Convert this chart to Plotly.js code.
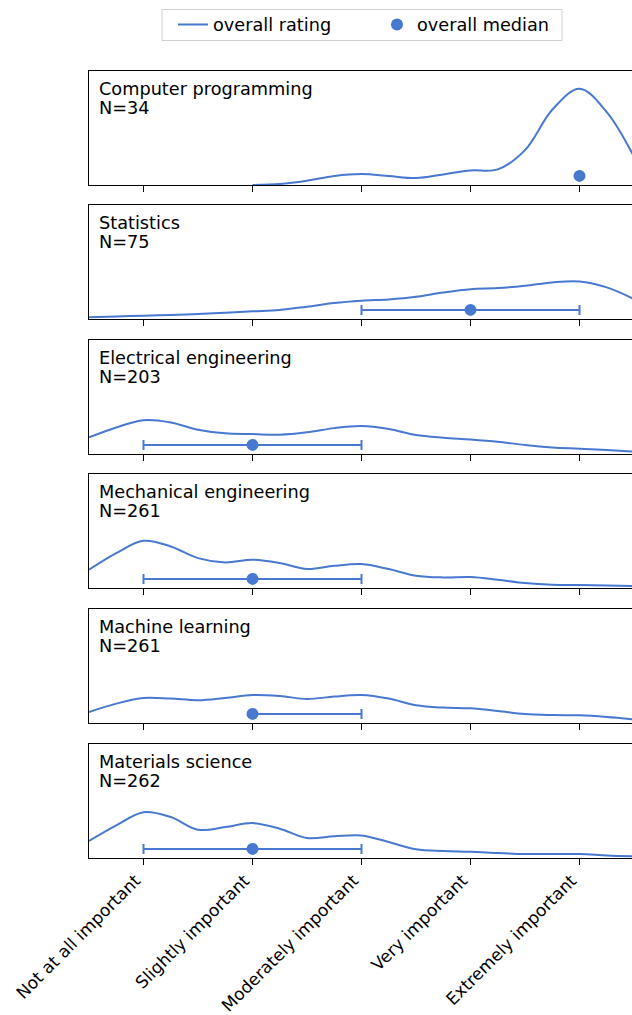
<!DOCTYPE html>
<html><head><meta charset="utf-8">
<script src="https://cdn.plot.ly/plotly-3.0.1.min.js"></script>
<style>html,body{margin:0;padding:0;overflow:hidden;background:#fff}</style>
</head><body><div id="chart" style="width:636px;height:1015px"></div>
<script>
const ratingLabels = ["Not at all important", "Slightly important", "Moderately important", "Very important", "Extremely important"];
const ratingPositions = [1, 2, 3, 4, 5];
const subjects = ["Computer programming", "Statistics", "Electrical engineering", "Mechanical engineering", "Machine learning", "Materials science"];
const sampleSizes = [34, 75, 203, 261, 261, 262];

const gridX = [0.5, 0.75, 1.0, 1.25, 1.5, 1.75, 2.0, 2.25, 2.5, 2.75, 3.0, 3.25, 3.5, 3.75, 4.0, 4.25, 4.5, 4.75, 5.0, 5.25, 5.5];

const densityComputerProgramming = [null, null, null, null, null, null, 0.0, 0.009, 0.038, 0.079, 0.096, 0.079, 0.061, 0.093, 0.128, 0.137, 0.306, 0.66, 0.845, 0.64, 0.248];
const densityStatistics = [0.015, 0.023, 0.029, 0.035, 0.044, 0.055, 0.067, 0.079, 0.108, 0.140, 0.160, 0.172, 0.195, 0.233, 0.262, 0.271, 0.292, 0.321, 0.329, 0.277, 0.175];
const densityElectrical = [0.146, 0.233, 0.297, 0.277, 0.213, 0.181, 0.175, 0.169, 0.190, 0.227, 0.245, 0.219, 0.166, 0.143, 0.128, 0.108, 0.079, 0.058, 0.047, 0.035, 0.020];
const densityMechanical = [0.160, 0.306, 0.414, 0.364, 0.262, 0.224, 0.248, 0.219, 0.166, 0.195, 0.210, 0.166, 0.108, 0.093, 0.096, 0.073, 0.044, 0.029, 0.026, 0.023, 0.017];
const densityMachineLearning = [0.097, 0.170, 0.220, 0.214, 0.200, 0.220, 0.246, 0.237, 0.211, 0.232, 0.246, 0.214, 0.155, 0.135, 0.129, 0.106, 0.079, 0.070, 0.067, 0.053, 0.032];
const densityMaterials = [0.149, 0.286, 0.402, 0.359, 0.248, 0.271, 0.306, 0.257, 0.175, 0.190, 0.198, 0.140, 0.076, 0.061, 0.055, 0.044, 0.035, 0.035, 0.035, 0.023, 0.015];

const densities = [densityComputerProgramming, densityStatistics, densityElectrical, densityMechanical, densityMachineLearning, densityMaterials];

const medians = [5, 4, 2, 2, 2, 2];
const lowerQuartiles = [5, 3, 1, 1, 2, 1];
const upperQuartiles = [5, 5, 3, 3, 3, 3];
const medianLevel = [0.08, 0.08, 0.08, 0.08, 0.08, 0.08];

const color = "#4878d0";
const font = "DejaVu Sans, sans-serif";
const fs = 17.7;
const tickFs = 17;
const figH = 1015, mTop = 71, mBot = 157, mLeft = 89, figW = 636;
const plotH = figH - mTop - mBot;
const plotW = figW - mLeft - 2;
const panelTops = [71, 205, 340, 474, 609, 744];
const panelH = 114;
const py = (px) => 1 + (mTop - px) / plotH;
const pxX = (px) => (px - mLeft) / plotW;

const traces = [];
const layout = {
  width: figW, height: figH,
  margin: {l: mLeft, r: 2, t: mTop, b: mBot, pad: 0},
  paper_bgcolor: "#fff", plot_bgcolor: "#fff",
  font: {family: font, size: fs, color: "#000"},
  showlegend: true,
  legend: {
    orientation: "h", x: pxX(173), xanchor: "left", y: py(25), yanchor: "middle",
    bgcolor: "rgba(0,0,0,0)", borderwidth: 0, font: {family: font, size: fs, color: "#000"},
    itemwidth: 30, entrywidth: 159, entrywidthmode: "pixels"
  },
  shapes: [{
    type: "rect", xref: "paper", yref: "paper",
    x0: pxX(162), x1: pxX(562), y0: py(40.5), y1: py(9.5),
    line: {color: "#d0d0d0", width: 1}, fillcolor: "rgba(255,255,255,0.8)", layer: "below"
  }],
  annotations: []
};

subjects.forEach((name, i) => {
  const k = i === 0 ? "" : String(i + 1);
  const xa = "x" + k, ya = "y" + k;
  traces.push({
    type: "scatter", mode: "lines", x: gridX, y: densities[i], xaxis: xa, yaxis: ya,
    line: {color: color, width: 2, shape: "spline", smoothing: 1}, connectgaps: false,
    name: "overall rating", showlegend: i === 0, legendgroup: "rating", hoverinfo: "skip"
  });
  traces.push({
    type: "scatter", mode: "markers", x: [medians[i]], y: [medianLevel[i]], xaxis: xa, yaxis: ya,
    marker: {color: color, size: 12},
    error_x: {type: "data", symmetric: false, array: [upperQuartiles[i] - medians[i]], arrayminus: [medians[i] - lowerQuartiles[i]], color: color, thickness: 2, width: 5},
    name: "overall median", showlegend: i === 0, legendgroup: "median", hoverinfo: "skip"
  });
  const top = 1 - (panelTops[i] - mTop) / plotH;
  const bot = 1 - (panelTops[i] + panelH - mTop) / plotH;
  layout["yaxis" + k] = {
    domain: [bot, top], anchor: xa, range: [0, 1], showticklabels: false, ticks: "",
    showgrid: false, zeroline: false, showline: true, linecolor: "#000", linewidth: 1, mirror: true, fixedrange: true
  };
  layout["xaxis" + k] = {
    anchor: ya, range: [0.5, 5.5], tickmode: "array", tickvals: ratingPositions, ticktext: ratingLabels,
    showticklabels: i === subjects.length - 1, tickangle: -45, ticks: "outside", ticklen: 6, tickwidth: 1, tickcolor: "#000",
    ticklabelshift: -8, ticklabelstandoff: -1,
    showgrid: false, zeroline: false, showline: true, linecolor: "#000", linewidth: 1, mirror: true,
    tickfont: {family: font, size: tickFs, color: "#000"}, fixedrange: true
  };
  if (i > 0) layout["xaxis" + k].matches = "x";
  layout.annotations.push({
    xref: xa + " domain", yref: ya + " domain", x: 0.014, y: 1 - 5.8 / panelH, xanchor: "left", yanchor: "top",
    align: "left", showarrow: false, text: name,
    font: {family: font, size: fs, color: "#000"}
  });
  layout.annotations.push({
    xref: xa + " domain", yref: ya + " domain", x: 0.014, y: 1 - 25.4 / panelH, xanchor: "left", yanchor: "top",
    align: "left", showarrow: false, text: "N=" + sampleSizes[i],
    font: {family: font, size: fs, color: "#000"}
  });
});

Plotly.newPlot("chart", traces, layout, {displayModeBar: false, staticPlot: true});
</script></body></html>
